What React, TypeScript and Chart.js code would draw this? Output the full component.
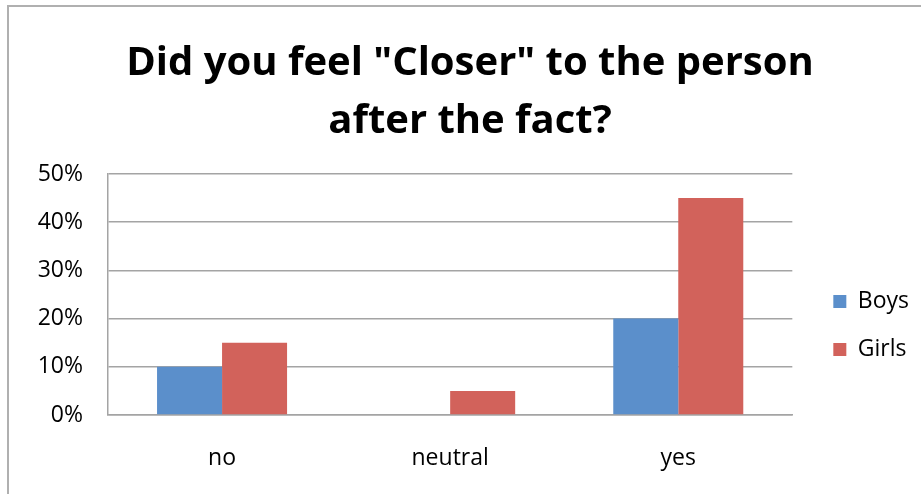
import React, { useEffect, useRef } from "react";
import { Chart, registerables } from "chart.js";

Chart.register(...registerables);

// Survey answers, in percent of respondents
const categories = ["no", "neutral", "yes"];
const boysValues = [10, 0, 20];
const girlsValues = [15, 5, 45];
const yTicks = [0, 10, 20, 30, 40, 50];
const titleLines = ['Did you feel "Closer" to the person', "after the fact?"];

const BLUE = "#5B8FCB";
const RED = "#D2625B";
const GRID = "#a4a4a4";
const FONT = "'Open Sans', 'DejaVu Sans', sans-serif";

// Nudges the legend block a little away from the plot area.
const legendOffset = {
  id: "legendOffset",
  afterLayout(chart: any) {
    const lg = chart.legend;
    if (!lg) return;
    const dx = 16;
    const dy = 90;
    lg.left += dx;
    lg.right += dx;
    lg.top += dy;
    lg.bottom += dy;
  },
};

export default function App() {
  const canvasRef = useRef<HTMLCanvasElement | null>(null);

  useEffect(() => {
    const canvas = canvasRef.current;
    if (!canvas) return;
    const chart = new Chart(canvas, {
      type: "bar",
      data: {
        labels: categories,
        datasets: [
          {
            label: "Boys",
            data: boysValues,
            backgroundColor: BLUE,
            borderWidth: 0,
            categoryPercentage: 0.57,
            barPercentage: 1,
          },
          {
            label: "Girls",
            data: girlsValues,
            backgroundColor: RED,
            borderWidth: 0,
            categoryPercentage: 0.57,
            barPercentage: 1,
          },
        ],
      },
      options: {
        animation: false,
        responsive: false,
        maintainAspectRatio: false,
        layout: { padding: { left: 37, right: 18, top: 0, bottom: 23 } },
        plugins: {
          tooltip: { enabled: false },
          title: {
            display: true,
            text: titleLines,
            color: "#000",
            font: { family: FONT, size: 40, weight: "bold", lineHeight: 1.45 },
            padding: { top: 35, bottom: 23 },
          },
          legend: {
            position: "right",
            align: "center",
            labels: {
              boxWidth: 13,
              boxHeight: 13,
              padding: 25,
              color: "#000",
              font: { family: FONT, size: 23 },
            },
          },
        },
        scales: {
          x: {
            grid: { display: false, drawTicks: false },
            border: { display: true, color: GRID, width: 1.5 },
            ticks: {
              color: "#000",
              padding: 30,
              font: { family: FONT, size: 23 },
            },
            afterFit(scale: any) {
              scale.height = 56;
            },
          },
          y: {
            min: 0,
            max: 50,
            afterBuildTicks(scale: any) {
              scale.ticks = yTicks.map((v) => ({ value: v }));
            },
            afterFit(scale: any) {
              scale.width = 71;
            },
            grid: { color: GRID, lineWidth: 1.5, drawTicks: false },
            border: { display: true, color: GRID, width: 1.5 },
            ticks: {
              color: "#000",
              padding: 25,
              font: { family: FONT, size: 23 },
              callback: (v: any) => `${v}%`,
            },
          },
        },
      },
      plugins: [legendOffset],
    });
    return () => chart.destroy();
  }, []);

  return (
    <div style={{ position: "fixed", left: 0, top: 0, width: 921, height: 494, background: "#fff" }}>
      <div
        style={{
          position: "absolute",
          left: 7,
          top: 5,
          right: 0,
          bottom: 0,
          borderTop: "2px solid #b0b0b0",
          borderLeft: "2px solid #b0b0b0",
        }}
      />
      <canvas ref={canvasRef} width={921} height={494} style={{ position: "absolute", left: 0, top: 0 }} />
    </div>
  );
}
